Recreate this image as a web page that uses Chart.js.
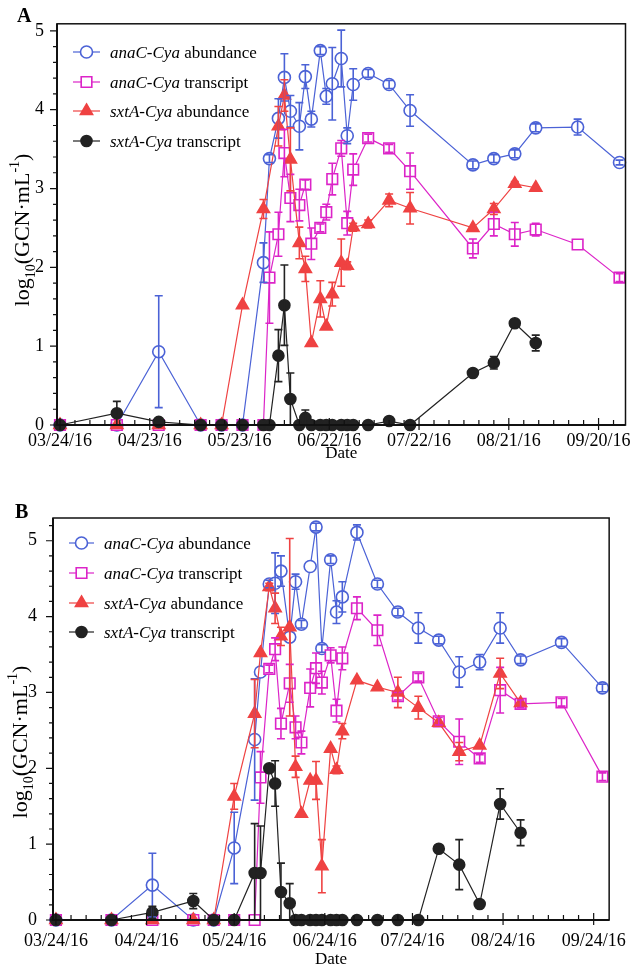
<!DOCTYPE html>
<html>
<head>
<meta charset="utf-8">
<script src="https://cdn.jsdelivr.net/npm/chart.js@4/dist/chart.umd.min.js"></script>
<style>
  html, body { margin: 0; padding: 0; background: #fff; }
  #wrap { position: relative; width: 636px; height: 969px; }
  canvas { position: absolute; left: 0; }
  #chartA { top: 0; }
  #chartB { top: 468px; }
</style>
</head>
<body>
<div id="wrap">
  <canvas id="chartA" width="636" height="468"></canvas>
  <canvas id="chartB" width="636" height="501"></canvas>
</div>
<script>
// series styling shared by both panels
const geneNames = ['anaC-Cya', 'anaC-Cya', 'sxtA-Cya', 'sxtA-Cya'];
const measureNames = [' abundance', ' transcript', ' abundance', ' transcript'];
const seriesColors = ['#4b62d6', '#dc24c8', '#ef4242', '#222222'];

// ---- panel A ----
const datesA = ['03/24/16','04/12/16','04/26/16','05/10/16','05/17/16','05/24/16','05/31/16','06/02/16',
  '06/05/16','06/07/16','06/09/16','06/12/16','06/14/16','06/16/16','06/19/16','06/21/16','06/23/16',
  '06/26/16','06/28/16','06/30/16','07/05/16','07/12/16','07/19/16','08/09/16','08/16/16','08/23/16',
  '08/30/16','09/13/16','09/27/16'];
const anaAbundA    = [0,0,0.93,0,0,0,2.06,3.38,3.89,4.41,3.98,3.79,4.42,3.88,4.75,4.17,4.33,4.65,3.67,4.32,4.46,4.32,3.99,3.30,3.38,3.44,3.77,3.78,3.33];
const anaAbundErrA = [0,0,0.71,0,0,0,0.25,0.05,0.25,0.3,0.2,0.3,0.15,0.1,0.05,0.1,0.46,0.36,0.1,0.2,0.05,0.05,0.2,0.05,0.05,0.05,0.05,0.1,0.03];
const anaTransA    = [0,0,0,0,0,0,0,1.87,2.42,3.45,2.88,2.79,3.05,2.30,2.50,2.70,3.12,3.51,2.56,3.24,3.64,3.51,3.22,2.24,2.55,2.42,2.48,2.29,1.87];
const anaTransErrA = [0,0,0,0,0,0,0,0.58,0.28,0.3,0.3,0.2,0.06,0.2,0.05,0.1,0.2,0.1,0.15,0.2,0.05,0.05,0.23,0.12,0.15,0.15,0.08,0,0.05];
const sxtAbundA    = [0,0,0,0,0,1.52,2.74,null,3.79,4.18,3.37,2.31,1.98,1.04,1.60,1.25,1.66,2.06,2.02,2.51,2.55,2.85,2.75,2.50,2.74,3.06,3.01,null,null];
const sxtAbundErrA = [0,0,0,0,0,0,0.12,0,0.25,0.2,0.4,0.2,0.16,0,0.23,0,0.15,0.3,0.05,0.05,0.05,0.08,0.2,0,0.07,0.03,0,0,0];
const sxtTransA    = [0,0.15,0.04,0,0,0,0,0,0.88,1.52,0.33,0,0.09,0,0,0,0,0,0,0,0,0.05,0,0.66,0.79,1.29,1.04,null,null];
const sxtTransErrA = [0,0.15,0,0,0,0,0,0,0.33,0.51,0.33,0,0.1,0,0,0,0,0,0,0,0,0,0,0,0.08,0,0.1,0,0];
const tickLabelsA  = ['03/24/16','04/23/16','05/23/16','06/22/16','07/22/16','08/21/16','09/20/16'];

// ---- panel B ----
const datesB = ['03/24/16','04/12/16','04/26/16','05/10/16','05/17/16','05/24/16','05/31/16','06/02/16',
  '06/05/16','06/07/16','06/09/16','06/12/16','06/14/16','06/16/16','06/19/16','06/21/16','06/23/16',
  '06/26/16','06/28/16','06/30/16','07/05/16','07/12/16','07/19/16','07/26/16','08/02/16','08/09/16',
  '08/16/16','08/23/16','08/30/16','09/13/16','09/27/16'];
const anaAbundB    = [0,0,0.46,0,0,0.95,2.38,3.27,4.43,4.44,4.60,3.73,4.46,3.90,4.66,5.18,3.58,4.75,4.06,4.26,5.11,4.43,4.06,3.85,3.69,3.27,3.40,3.85,3.43,3.66,3.06];
const anaAbundErrB = [0,0,0.42,0,0,0.47,0.8,0,0.05,0.4,0.2,0,0.1,0.05,0,0.05,0.05,0.05,0.15,0.2,0.1,0.05,0.05,0.2,0.05,0.2,0.1,0.2,0.05,0.05,0.05];
const anaTransB    = [0,0,0,0,0,0,0,1.88,3.31,3.57,2.59,3.12,2.54,2.34,3.06,3.32,3.13,3.49,2.76,3.45,4.11,3.82,2.95,3.20,2.62,2.35,2.13,3.03,2.85,2.87,1.89];
const anaTransErrB = [0,0,0,0,0,0,0,0.34,0.05,0.15,0.2,0.25,0.15,0.15,0.25,0.2,0.15,0.1,0.15,0.15,0.15,0.2,0.05,0.05,0.05,0.3,0.05,0.3,0.05,0.05,0.05];
const sxtAbundB    = [0,0,0,0,0,1.63,2.72,3.52,4.39,4.11,3.74,3.86,2.02,1.40,1.84,1.84,0.71,2.26,1.98,2.49,3.16,3.07,3.00,2.80,2.60,2.22,2.30,3.25,2.86,null,null];
const sxtAbundErrB = [0,0,0,0,0,0.17,0.45,0,0.05,0.2,0.12,1.17,0.14,0,0,0.25,0.35,0,0.05,0.1,0,0,0.2,0.15,0,0.12,0,0.2,0,0,0];
const sxtTransB    = [0,0,0.1,0.25,0,0,0.62,0.62,2.0,1.80,0.37,0.22,0,0,0,0,0,0,0,0,0,0,0,0,0.94,0.73,0.21,1.53,1.15,null,null];
const sxtTransErrB = [0,0,0.08,0.1,0,0,0.65,0.62,0,0.3,0.38,0.26,0,0,0,0,0,0,0,0,0,0,0,0,0,0.33,0,0.2,0.17,0,0];
const tickLabelsB  = ['03/24/16','04/24/16','05/24/16','06/24/16','07/24/16','08/24/16','09/24/16'];

const SERIF = '"Liberation Serif", "Times New Roman", serif';
const START = Date.UTC(2016, 2, 24);

// days since 03/24/16
function dayOf(s) {
  const [m, d, y] = s.split('/').map(Number);
  return (Date.UTC(2000 + y, m - 1, d) - START) / 864e5;
}

function pointsFrom(dates, vals) {
  return dates.map((d, i) => ({ x: dayOf(d), y: vals[i] }));
}

const markerStyles = [
  { pointStyle: 'circle', radius: 6, fill: '#fff' },
  { pointStyle: 'rect', radius: 7.5, fill: '#fff' },
  { pointStyle: 'triangle', radius: 7, fill: null },
  { pointStyle: 'circle', radius: 5.5, fill: null }
];

function makeDatasets(dates, series, errs) {
  return series.map((vals, k) => ({
    data: pointsFrom(dates, vals),
    errors: errs[k],
    borderColor: seriesColors[k],
    backgroundColor: seriesColors[k],
    borderWidth: 1.2,
    pointStyle: markerStyles[k].pointStyle,
    pointRadius: markerStyles[k].radius,
    pointBorderWidth: 1.6,
    pointBackgroundColor: markerStyles[k].fill || seriesColors[k],
    pointBorderColor: seriesColors[k],
    spanGaps: true,
    clip: false,
    order: 3 - k
  }));
}

// vertical error bars with caps, drawn over the markers
const errorBars = {
  id: 'errorBars',
  afterDatasetsDraw(chart) {
    const { ctx, chartArea: a, scales: { x, y } } = chart;
    ctx.save();
    ctx.beginPath();
    ctx.rect(a.left, a.top, a.right - a.left, a.bottom - a.top);
    ctx.clip();
    chart.data.datasets.forEach(ds => {
      ctx.strokeStyle = ds.borderColor;
      ctx.lineWidth = 1.6;
      ds.data.forEach((p, i) => {
        const e = ds.errors[i];
        if (p.y == null || !e) return;
        const px = x.getPixelForValue(p.x);
        const top = y.getPixelForValue(p.y + e);
        const bot = y.getPixelForValue(p.y - e);
        ctx.beginPath();
        ctx.moveTo(px, top); ctx.lineTo(px, bot);
        ctx.moveTo(px - 4, top); ctx.lineTo(px + 4, top);
        ctx.moveTo(px - 4, bot); ctx.lineTo(px + 4, bot);
        ctx.stroke();
      });
    });
    ctx.restore();
  }
};

// frame, tick marks, titles and the legend box
const decorations = {
  id: 'decorations',
  afterDraw(chart, args, o) {
    const { ctx, chartArea: a, scales: { x, y } } = chart;
    ctx.save();
    ctx.strokeStyle = '#111';
    ctx.lineWidth = 1.5;
    ctx.strokeRect(a.left, a.top, a.right - a.left, a.bottom - a.top);
    ctx.lineWidth = 2;
    ctx.beginPath();
    ctx.moveTo(a.left, a.top); ctx.lineTo(a.left, a.bottom); ctx.lineTo(a.right, a.bottom);
    ctx.stroke();

    ctx.lineWidth = 1.2;
    ctx.beginPath();
    o.xMajor.forEach(d => {
      const px = x.getPixelForValue(d);
      ctx.moveTo(px, a.bottom + 5); ctx.lineTo(px, a.bottom - 7);
    });
    o.xMinor.forEach(d => {
      const px = x.getPixelForValue(d);
      ctx.moveTo(px, a.bottom); ctx.lineTo(px, a.bottom - 5);
    });
    for (let v = 0; v <= y.max + 1e-6; v += 0.2) {
      const py = y.getPixelForValue(v);
      const major = Math.abs(v - Math.round(v)) < 1e-6;
      ctx.moveTo(a.left - (major ? 7 : 4), py); ctx.lineTo(a.left, py);
    }
    ctx.stroke();

    ctx.fillStyle = '#000';
    ctx.textBaseline = 'alphabetic';
    ctx.textAlign = 'left';
    ctx.font = 'bold 20px ' + SERIF;
    ctx.fillText(o.letter, o.letterX, o.letterY);

    ctx.font = '17px ' + SERIF;
    ctx.textAlign = 'center';
    ctx.fillText('Date', (a.left + a.right) / 2, o.dateY);

    drawYTitle(ctx, o.yTitleX, o.yTitleY, o.yTitleSize);

    // legend
    ctx.textAlign = 'left';
    o.legendRows.forEach((ry, k) => {
      const col = seriesColors[k];
      ctx.strokeStyle = col;
      ctx.lineWidth = 1.2;
      ctx.beginPath();
      ctx.moveTo(o.legendX0, ry); ctx.lineTo(o.legendX1, ry);
      ctx.stroke();
      ctx.fillStyle = markerStyles[k].fill || col;
      ctx.lineWidth = 1.6;
      Chart.helpers.drawPoint(ctx, {
        pointStyle: markerStyles[k].pointStyle,
        radius: markerStyles[k].radius,
        rotation: 0,
        borderWidth: 1.6
      }, (o.legendX0 + o.legendX1) / 2, ry);
      ctx.fillStyle = '#000';
      ctx.font = 'italic 17px ' + SERIF;
      ctx.fillText(geneNames[k], o.legendText, ry + 6);
      const w = ctx.measureText(geneNames[k]).width;
      ctx.font = '17px ' + SERIF;
      ctx.fillText(measureNames[k], o.legendText + w, ry + 6);
    });
    ctx.restore();
  }
};

// rotated "log10(GCN·mL-1)" with sub- and superscript
function drawYTitle(ctx, cx, cy, size) {
  const parts = [['log', 0, 1], ['10', 0.3, 0.65], ['(GCN·mL', 0, 1], ['-1', -0.42, 0.65], [')', 0, 1]];
  ctx.save();
  ctx.translate(cx, cy);
  ctx.rotate(-Math.PI / 2);
  ctx.textAlign = 'left';
  ctx.textBaseline = 'alphabetic';
  let total = 0;
  parts.forEach(p => {
    ctx.font = Math.round(size * p[2]) + 'px ' + SERIF;
    total += ctx.measureText(p[0]).width;
  });
  let px = -total / 2;
  parts.forEach(p => {
    ctx.font = Math.round(size * p[2]) + 'px ' + SERIF;
    ctx.fillText(p[0], px, size * 0.35 + p[1] * size);
    px += ctx.measureText(p[0]).width;
  });
  ctx.restore();
}

function makePanel(canvasId, opts) {
  const majorDays = opts.tickLabels.map(dayOf);
  return new Chart(document.getElementById(canvasId), {
    type: 'line',
    data: { datasets: makeDatasets(opts.dates, opts.series, opts.errors) },
    plugins: [errorBars, decorations],
    options: {
      responsive: false,
      animation: false,
      events: [],
      layout: { padding: { top: opts.top, right: opts.right, left: 0, bottom: 0 } },
      plugins: {
        legend: { display: false },
        tooltip: { enabled: false },
        decorations: Object.assign({ xMajor: majorDays, xMinor: opts.minor }, opts.deco)
      },
      scales: {
        x: {
          type: 'linear',
          min: opts.xMin,
          max: opts.xMax,
          grid: { display: false, drawTicks: false },
          border: { display: false },
          afterBuildTicks: s => { s.ticks = majorDays.map(v => ({ value: v })); },
          afterFit: s => { s.height = opts.xHeight; },
          ticks: {
            autoSkip: false,
            maxRotation: 0,
            padding: opts.xPad,
            color: '#000',
            font: { family: SERIF, size: 18 },
            callback: (v, i) => opts.tickLabels[i]
          }
        },
        y: {
          min: 0,
          max: opts.yMax,
          grid: { display: false, drawTicks: false },
          border: { display: false },
          afterBuildTicks: s => { s.ticks = [0, 1, 2, 3, 4, 5].map(v => ({ value: v })); },
          afterFit: s => { s.width = opts.yWidth; },
          ticks: {
            padding: opts.yPad,
            color: '#000',
            font: { family: SERIF, size: 18 },
            callback: v => String(v)
          }
        }
      }
    }
  });
}

// minor x ticks: every 5 days for A, six steps per month for B
const minorA = [];
for (let d = 5; d < 189; d += 5) if (d % 30) minorA.push(d);
const majorB = tickLabelsB.map(dayOf);
const minorB = [];
majorB.forEach((d, i) => {
  const next = i < majorB.length - 1 ? majorB[i + 1] : d + 31;
  for (let k = 1; k < 6; k++) {
    const v = d + (next - d) * k / 6;
    if (v < 189) minorB.push(v);
  }
});

makePanel('chartA', {
  dates: datesA,
  series: [anaAbundA, anaTransA, sxtAbundA, sxtTransA],
  errors: [anaAbundErrA, anaTransErrA, sxtAbundErrA, sxtTransErrA],
  tickLabels: tickLabelsA,
  minor: minorA,
  xMin: -1, xMax: 189, yMax: 5.09,
  top: 22, right: 9, xHeight: 43, yWidth: 57, xPad: 5, yPad: 13,
  deco: {
    letter: 'A', letterX: 17, letterY: 22, dateY: 458,
    yTitleX: 21, yTitleY: 230, yTitleSize: 22,
    legendRows: [52, 82, 111, 141], legendX0: 73, legendX1: 100, legendText: 110
  }
});

makePanel('chartB', {
  dates: datesB,
  series: [anaAbundB, anaTransB, sxtAbundB, sxtTransB],
  errors: [anaAbundErrB, anaTransErrB, sxtAbundErrB, sxtTransErrB],
  tickLabels: tickLabelsB,
  minor: minorB,
  xMin: -1, xMax: 189.3, yMax: 5.3,
  top: 50, right: 12, xHeight: 49, yWidth: 53, xPad: 10, yPad: 16,
  deco: {
    letter: 'B', letterX: 15, letterY: 50, dateY: 496,
    yTitleX: 19, yTitleY: 274, yTitleSize: 22,
    legendRows: [75, 105, 135, 164], legendX0: 69, legendX1: 94, legendText: 104
  }
});
</script>
</body>
</html>
